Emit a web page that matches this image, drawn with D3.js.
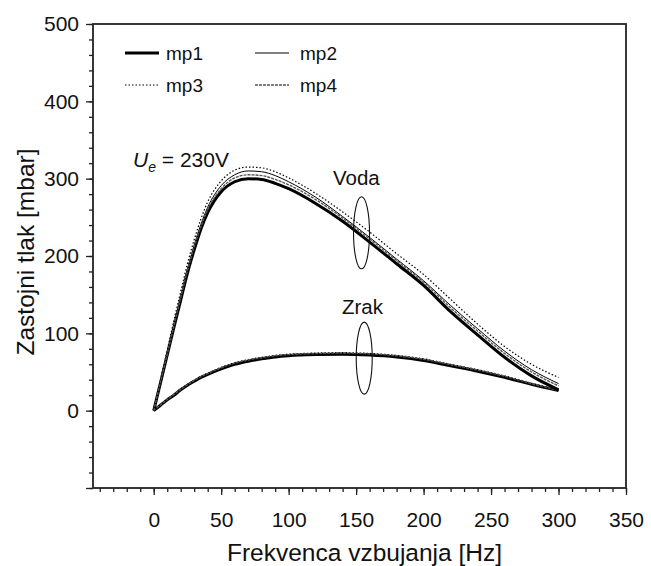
<!DOCTYPE html>
<html>
<head>
<meta charset="utf-8">
<script src="https://cdn.jsdelivr.net/npm/d3@7"></script>
<style>
  body { margin: 0; background: #fff; }
  svg { font-family: "Liberation Sans", Arial, sans-serif; }
</style>
</head>
<body>
<div id="chart"></div>
<script>
// frequency samples [Hz]
var freq = [0, 5, 10, 15, 20, 25, 30, 35, 40, 50, 60, 70, 80, 90, 100, 120, 140, 160, 180, 200, 220, 240, 260, 280, 300];

// Voda (water) stall pressure [mbar]
var vodaMp1 = [0, 36, 72, 108, 143, 178, 208, 235, 256, 283, 296, 300, 299, 294, 287, 268, 245, 218, 190, 162, 128, 98, 69, 45, 27];
var vodaMp2 = [0, 37, 74, 111, 147, 183, 214, 241, 263, 291, 305, 310, 309, 304, 296, 276, 251, 224, 196, 168, 136, 106, 77, 53, 35];
var vodaMp3 = [0, 39, 78, 117, 154, 190, 221, 248, 270, 297, 311, 315, 314, 309, 301, 281, 257, 231, 203, 176, 144, 112, 83, 60, 43];
var vodaMp4 = [0, 37, 73, 110, 146, 181, 212, 238, 260, 287, 301, 305, 304, 299, 292, 273, 249, 222, 194, 166, 133, 103, 74, 50, 32];

// Zrak (air) stall pressure [mbar]
var zrakMp1 = [0, 7, 14, 20, 27, 33, 38, 43, 47, 54, 60, 64, 67, 69.5, 71, 72.5, 73, 72, 69.5, 65, 58, 51, 43, 34, 26];
var zrakMp2 = [0, 7, 14, 20, 27, 33, 38, 43, 47.5, 54.5, 60.5, 64.5, 67.5, 70, 71.5, 73, 73.5, 72.5, 70, 65.5, 58.5, 51.5, 43.5, 34.5, 26];
var zrakMp3 = [0, 7.5, 15, 21, 28, 34, 39.5, 44.5, 48.5, 56, 62, 66, 69, 71.5, 73, 74.5, 75, 74, 71.5, 67, 60, 53, 45, 35.5, 27];
var zrakMp4 = [0, 7.5, 14.5, 21, 27.5, 33.5, 39, 44, 48, 55.5, 61.5, 65.5, 68.5, 71, 72.5, 74, 74.5, 73.5, 71, 66.5, 59.5, 52.5, 44.5, 35, 26.5];

var seriesNames = ["mp1", "mp2", "mp3", "mp4"];
var xMajorTicks = [0, 50, 100, 150, 200, 250, 300, 350];
var yMajorTicks = [-100, 0, 100, 200, 300, 400, 500];

var width = 651, height = 566;

var styles = {
    mp1: { stroke: "#000", width: 3, dash: null },
    mp2: { stroke: "#000", width: 1, dash: null },
    mp3: { stroke: "#000", width: 1.2, dash: "1.5,2" },
    mp4: { stroke: "#555", width: 1.4, dash: "3,1" }
};

var svg = d3.select("#chart").append("svg")
    .attr("width", width)
    .attr("height", height);

var x = d3.scaleLinear().domain([-45, 350]).range([93, 626]);
var y = d3.scaleLinear().domain([-100, 500]).range([488, 24]);

// minor ticks
svg.append("g")
    .attr("transform", "translate(0," + y(-100) + ")")
    .call(d3.axisBottom(x).tickValues(d3.range(-40, 351, 10)).tickSize(4).tickFormat(""))
    .call(function (g) { g.select(".domain").remove(); });

svg.append("g")
    .attr("transform", "translate(" + x(-45) + ",0)")
    .call(d3.axisLeft(y).tickValues(d3.range(-100, 501, 20)).tickSize(4).tickFormat(""))
    .call(function (g) { g.select(".domain").remove(); });

// major ticks
var xAxis = svg.append("g")
    .attr("transform", "translate(0," + y(-100) + ")")
    .call(d3.axisBottom(x).tickValues(xMajorTicks).tickSize(7).tickPadding(17));
xAxis.select(".domain").remove();

var yAxis = svg.append("g")
    .attr("transform", "translate(" + x(-45) + ",0)")
    .call(d3.axisLeft(y).tickValues(yMajorTicks).tickSize(7).tickPadding(7)
        .tickFormat(function (d) { return d < 0 ? "" : d; }));
yAxis.select(".domain").remove();

svg.selectAll(".tick line").attr("stroke", "#222").attr("stroke-width", 1.3);
svg.selectAll(".tick text").attr("font-size", 21).attr("fill", "#111")
    .attr("font-family", "Liberation Sans, Arial, sans-serif");

// frame
svg.append("rect")
    .attr("x", x(-45))
    .attr("y", y(500))
    .attr("width", x(350) - x(-45))
    .attr("height", y(-100) - y(500))
    .attr("fill", "none")
    .attr("stroke", "#222")
    .attr("stroke-width", 1.8);

// axis titles
svg.append("text")
    .attr("x", (x(-45) + x(350)) / 2 + 5)
    .attr("y", 561)
    .attr("text-anchor", "middle")
    .attr("font-size", 24.5)
    .attr("fill", "#111")
    .text("Frekvenca vzbujanja [Hz]");

svg.append("text")
    .attr("transform", "translate(34," + ((y(-100) + y(500)) / 2 - 4) + ") rotate(-90)")
    .attr("text-anchor", "middle")
    .attr("font-size", 24.5)
    .attr("fill", "#111")
    .text("Zastojni tlak [mbar]");

// curves
var line = d3.line()
    .x(function (d) { return x(d[0]); })
    .y(function (d) { return y(d[1]); })
    .curve(d3.curveMonotoneX);

var curves = [
    { name: "mp1", values: zrakMp1 }, { name: "mp2", values: zrakMp2 },
    { name: "mp3", values: zrakMp3 }, { name: "mp4", values: zrakMp4 },
    { name: "mp1", values: vodaMp1 }, { name: "mp2", values: vodaMp2 },
    { name: "mp3", values: vodaMp3 }, { name: "mp4", values: vodaMp4 }
];

svg.selectAll("path.curve")
    .data(curves)
    .enter()
    .append("path")
    .attr("class", "curve")
    .attr("fill", "none")
    .attr("stroke", function (d) { return styles[d.name].stroke; })
    .attr("stroke-width", function (d) { return styles[d.name].width; })
    .attr("stroke-dasharray", function (d) { return styles[d.name].dash; })
    .attr("d", function (d) {
        return line(freq.map(function (f, i) { return [f, d.values[i]]; }));
    });

// legend
var legend = svg.selectAll("g.legend")
    .data(seriesNames)
    .enter()
    .append("g")
    .attr("class", "legend")
    .attr("transform", function (d, i) {
        return "translate(" + (125 + (i % 2) * 130) + "," + (53 + Math.floor(i / 2) * 32) + ")";
    });

legend.append("line")
    .attr("x1", 0).attr("x2", 34)
    .attr("stroke", function (d) { return styles[d].stroke; })
    .attr("stroke-width", function (d) { return styles[d].width; })
    .attr("stroke-dasharray", function (d) { return styles[d].dash; });

legend.append("text")
    .attr("x", function (d, i) { return i % 2 ? 45 : 41; })
    .attr("y", 6.5)
    .attr("font-size", 19)
    .attr("fill", "#111")
    .text(function (d) { return d; });

// annotations
var ue = svg.append("text")
    .attr("x", 133)
    .attr("y", 167)
    .attr("font-size", 21)
    .attr("fill", "#111");
ue.append("tspan").attr("font-style", "italic").text("U");
ue.append("tspan").attr("font-style", "italic").attr("font-size", 14).attr("dy", 5).text("e");
ue.append("tspan").attr("dy", -5).text(" = 230V");

svg.append("text")
    .attr("x", 333).attr("y", 185)
    .attr("font-size", 20.5).attr("fill", "#111")
    .text("Voda");

svg.append("text")
    .attr("x", 342).attr("y", 314)
    .attr("font-size", 20.5).attr("fill", "#111")
    .text("Zrak");

svg.append("ellipse")
    .attr("cx", x(154)).attr("cy", y(230))
    .attr("rx", 8).attr("ry", 36)
    .attr("fill", "none").attr("stroke", "#111").attr("stroke-width", 1.1);

svg.append("ellipse")
    .attr("cx", x(156)).attr("cy", y(68))
    .attr("rx", 8).attr("ry", 36)
    .attr("fill", "none").attr("stroke", "#111").attr("stroke-width", 1.1);
</script>
</body>
</html>
